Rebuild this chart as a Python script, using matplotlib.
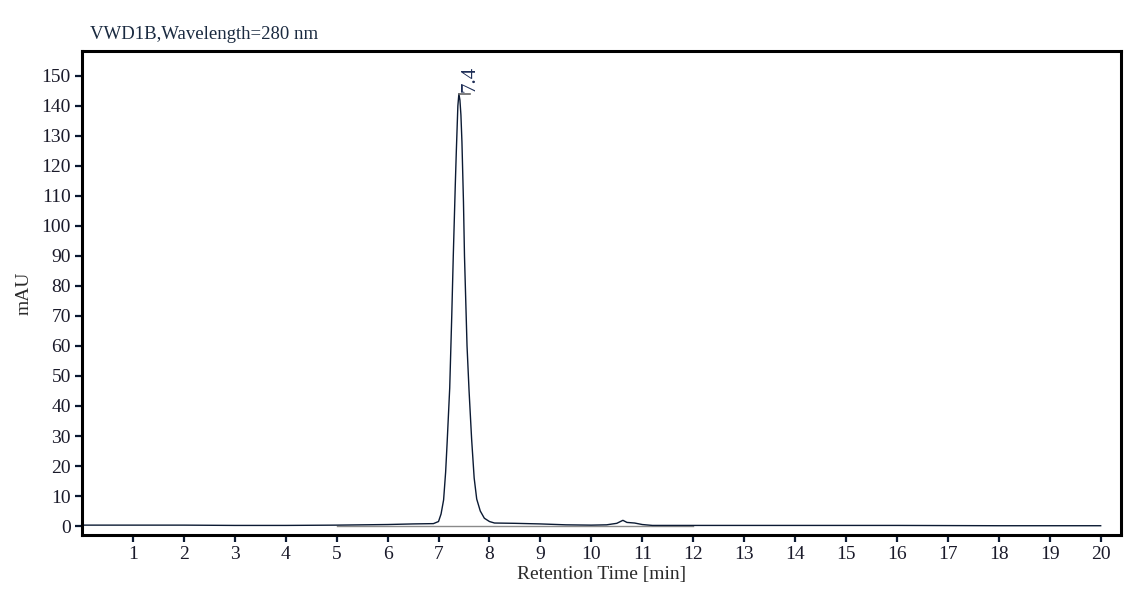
import matplotlib
matplotlib.use("Agg")
import matplotlib.pyplot as plt

# chromatogram trace (time in min, signal in mAU)
times = [0.0, 1.0, 2.0, 3.0, 4.0, 5.0, 5.5, 6.0, 6.5, 6.9, 7.0, 7.05,
         7.10, 7.14, 7.17, 7.22, 7.26, 7.29, 7.33, 7.35, 7.38, 7.40, 7.42,
         7.44, 7.46, 7.49, 7.51, 7.56, 7.60, 7.65, 7.70, 7.75, 7.82, 7.90,
         8.0, 8.1, 8.5, 9.0, 9.5, 10.0, 10.3, 10.5, 10.62, 10.7, 10.85,
         11.0, 11.2, 12.0, 14.0, 16.0, 18.0, 20.0]
signal = [0.3, 0.3, 0.3, 0.2, 0.2, 0.3, 0.4, 0.5, 0.7, 0.8, 1.5, 4.0,
          8.7, 18.0, 28.0, 46.0, 70.0, 90.0, 114.0, 125.0, 140.0, 144.0, 142.0,
          137.0, 128.0, 108.0, 90.0, 60.0, 45.0, 29.0, 16.0, 9.0, 5.0, 2.6,
          1.5, 1.0, 0.9, 0.7, 0.4, 0.3, 0.4, 0.9, 1.9, 1.2, 1.0,
          0.5, 0.2, 0.2, 0.2, 0.2, 0.1, 0.1]

peak_time = 7.40
peak_height = 144.0
peak_label = "7.4"
baseline_span = [5.0, 12.0]

xticks = list(range(1, 21))
yticks = list(range(0, 151, 10))

plt.rcParams['font.family'] = ['Liberation Serif', 'DejaVu Serif']

fig = plt.figure(figsize=(11.43, 5.96), dpi=100)
ax = fig.add_axes([0.0717, 0.1023, 0.9091, 0.8121])

navy = '#0b1a33'
ax.plot(baseline_span, [0, 0], color='#8a8a8a', lw=1.0)
ax.plot(times, signal, color=navy, lw=1.0)

# apex marker and retention time label
ax.plot([peak_time, peak_time + 0.21], [peak_height, peak_height], color='#666666', lw=1.2)
ax.text(peak_time + 0.22, peak_height + 0.8, peak_label, rotation=90,
        ha='center', va='bottom', fontsize=15, color='#1c2c55')

ax.set_xlim(0, 20.4)
ax.set_ylim(-3, 158.3)
ax.set_xticks(xticks)
ax.set_yticks(yticks)

for s in ax.spines.values():
    s.set_linewidth(2.2)
    s.set_color('black')
ax.tick_params(direction='out', length=5, width=1.6, color=navy,
               labelsize=14, labelcolor='#1a1a2a', pad=3)

ax.set_xlabel("Retention Time [min]", fontsize=14, color='#2a2a2a', labelpad=2)
ax.set_ylabel("mAU", fontsize=14, color='#2a2a2a', labelpad=6)
ax.text(0.008, 1.035, "VWD1B,Wavelength=280 nm", transform=ax.transAxes,
        ha='left', va='center', fontsize=13.5, color='#1a2a40')

fig.savefig("out.png", dpi=100)
